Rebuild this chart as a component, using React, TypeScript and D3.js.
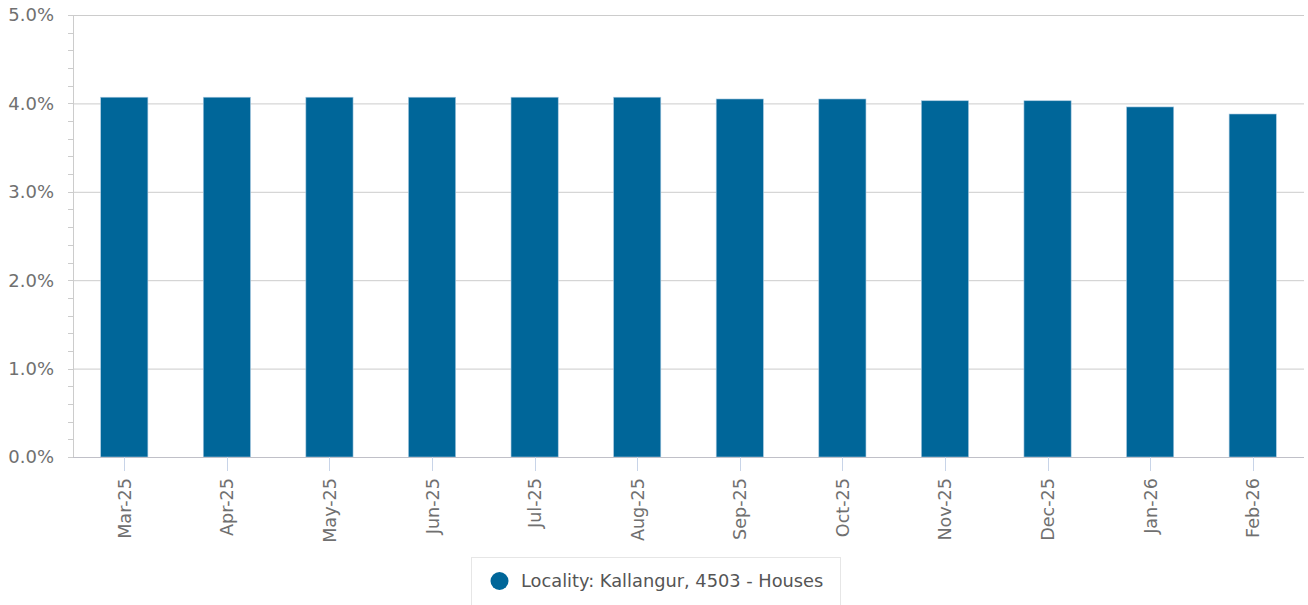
import React, { useEffect, useRef } from "react";
import * as d3 from "d3";

const months = ["Mar-25", "Apr-25", "May-25", "Jun-25", "Jul-25", "Aug-25", "Sep-25", "Oct-25", "Nov-25", "Dec-25", "Jan-26", "Feb-26"];
const yieldPct = [4.07, 4.07, 4.07, 4.07, 4.07, 4.07, 4.05, 4.05, 4.03, 4.03, 3.96, 3.88];
const yTicks = [0, 1, 2, 3, 4, 5];
const seriesName = "Locality: Kallangur, 4503 - Houses";

const W = 1308;
const H = 605;

const App = () => {
    const svgRef = useRef<SVGSVGElement>(null);

    useEffect(() => {
        const svg = d3.select(svgRef.current);
        svg.selectAll("*").remove();

        const left = 73, right = 1304, top = 15, bottom = 457;

        const x = d3.scaleBand().domain(months).range([left, right]).paddingInner(0.54).paddingOuter(0.27);
        const y = d3.scaleLinear().domain([0, 5]).range([bottom, top]);

        // grid
        svg.append("g")
            .selectAll("line")
            .data(yTicks)
            .join("line")
            .attr("x1", left)
            .attr("x2", right)
            .attr("y1", (d) => y(d) + 0.5)
            .attr("y2", (d) => y(d) + 0.5)
            .attr("stroke", "#cccccc")
            .attr("stroke-width", 1);

        // y axis line + minor ticks
        svg.append("line")
            .attr("x1", left + 0.5).attr("x2", left + 0.5)
            .attr("y1", top).attr("y2", bottom)
            .attr("stroke", "#cccccc");

        svg.append("g")
            .selectAll("line")
            .data(d3.range(0, 5.01, 0.2))
            .join("line")
            .attr("x1", left - 5)
            .attr("x2", left)
            .attr("y1", (d) => Math.round(y(d)) + 0.5)
            .attr("y2", (d) => Math.round(y(d)) + 0.5)
            .attr("stroke", "#cccccc");

        svg.append("g")
            .selectAll("text")
            .data(yTicks)
            .join("text")
            .attr("x", 54)
            .attr("y", (d) => y(d))
            .attr("dy", "0.35em")
            .attr("text-anchor", "end")
            .attr("font-family", "DejaVu Sans")
            .attr("font-size", 18)
            .attr("fill", "#707070")
            .text((d) => d.toFixed(1) + "%");

        // bars
        svg.append("g")
            .selectAll("rect")
            .data(yieldPct)
            .join("rect")
            .attr("x", (d, i) => x(months[i])!)
            .attr("y", (d) => y(d))
            .attr("width", x.bandwidth())
            .attr("height", (d) => bottom - y(d))
            .attr("fill", "#006699")
            .attr("stroke", "#a8c8e0")
            .attr("stroke-width", 0.6);

        // x axis
        svg.append("line")
            .attr("x1", left).attr("x2", right)
            .attr("y1", bottom + 0.5).attr("y2", bottom + 0.5)
            .attr("stroke", "#c0c0c8");

        const cx = (m: string) => x(m)! + x.bandwidth() / 2;

        svg.append("g")
            .selectAll("line")
            .data(months)
            .join("line")
            .attr("x1", (d) => Math.round(cx(d)) + 0.5)
            .attr("x2", (d) => Math.round(cx(d)) + 0.5)
            .attr("y1", bottom)
            .attr("y2", bottom + 14)
            .attr("stroke", "#c8d4e8");

        svg.append("g")
            .selectAll("text")
            .data(months)
            .join("text")
            .attr("transform", (d) => `translate(${cx(d) + 6.5},${bottom + 21}) rotate(-90)`)
            .attr("text-anchor", "end")
            .attr("font-family", "DejaVu Sans")
            .attr("font-size", 17.6)
            .attr("fill", "#707070")
            .text((d) => d);

        // legend
        const lg = svg.append("g");
        lg.append("rect")
            .attr("x", 471.5).attr("y", 557.5)
            .attr("width", 369).attr("height", 60)
            .attr("fill", "white")
            .attr("stroke", "#e6e6e6");
        lg.append("circle")
            .attr("cx", 499.5).attr("cy", 581).attr("r", 9)
            .attr("fill", "#006699");
        lg.append("text")
            .attr("x", 521).attr("y", 581)
            .attr("dy", "0.35em")
            .attr("font-family", "DejaVu Sans")
            .attr("font-size", 17.8)
            .attr("fill", "#555555")
            .text(seriesName);
    }, []);

    return (
        <svg ref={svgRef} width={W} height={H} style={{ position: "absolute", left: 0, top: 0, background: "white" }} />
    );
};

export default App;
